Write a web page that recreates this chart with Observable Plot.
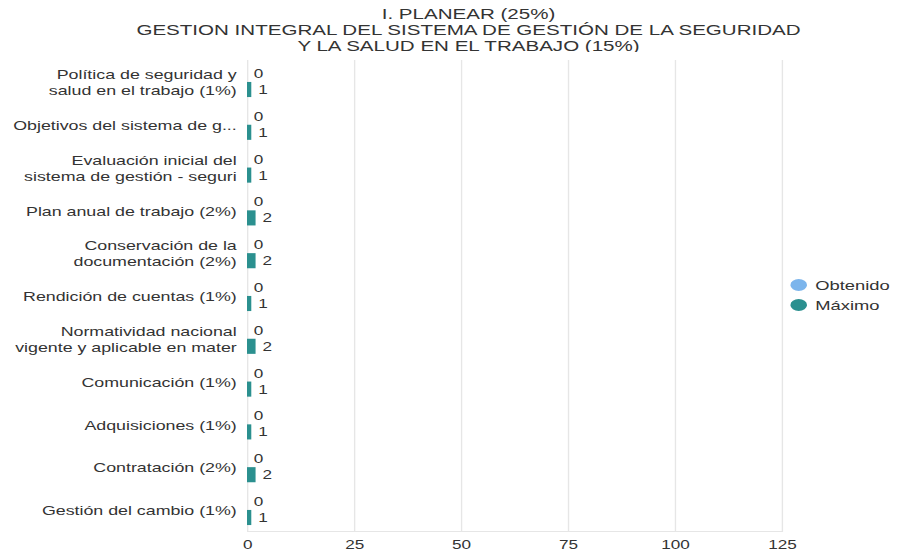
<!DOCTYPE html>
<html>
<head>
<meta charset="utf-8">
<script src="https://cdn.jsdelivr.net/npm/d3@7"></script>
<script src="https://cdn.jsdelivr.net/npm/@observablehq/plot@0.6"></script>
<style>
  html, body { margin: 0; padding: 0; background: #fff; }
  body { width: 897px; height: 552px; position: relative; overflow: hidden; font-family: "Liberation Sans", Arial, sans-serif; }
  #stage { position: absolute; left: 0; top: 0; width: 655px; height: 552px; transform: scaleX(1.37); transform-origin: 0 0; }
  #title { position: absolute; left: 14.5px; top: 6px; width: 655px; text-align: center; color: #333; font-size: 15px; line-height: 16px; white-space: nowrap; }
  #chart { position: absolute; left: 0; top: 52px; }
  #legend { position: absolute; left: 576.6px; top: 275px; font-size: 13.4px; color: #333; }
  #legend .item { display: flex; align-items: center; height: 20px; white-space: nowrap; }
  #legend .sw { display: inline-block; width: 12.5px; height: 12px; border-radius: 50%; margin-right: 6px; }
</style>
</head>
<body>
<div id="stage">
  <div id="title">I. PLANEAR (25%)<br>GESTION INTEGRAL DEL SISTEMA DE GESTIÓN DE LA SEGURIDAD<br>Y LA SALUD EN EL TRABAJO (15%)</div>
  <div id="chart"></div>
  <div id="legend"></div>
</div>
<script>
const categories = [
  "Política de seguridad y\nsalud en el trabajo (1%)",
  "Objetivos del sistema de g...",
  "Evaluación inicial del\nsistema de gestión - seguri",
  "Plan anual de trabajo (2%)",
  "Conservación de la\ndocumentación (2%)",
  "Rendición de cuentas (1%)",
  "Normatividad nacional\nvigente y aplicable en mater",
  "Comunicación (1%)",
  "Adquisiciones (1%)",
  "Contratación (2%)",
  "Gestión del cambio (1%)"
];
const obtenido = [0, 0, 0, 0, 0, 0, 0, 0, 0, 0, 0];
const maximo   = [1, 1, 1, 2, 2, 1, 2, 1, 1, 2, 1];
const seriesNames = ["Obtenido", "Máximo"];
const seriesColors = ["#7cb5ec", "#2b908f"];
const xTicks = [0, 25, 50, 75, 100, 125];

const dObt = categories.map((c, i) => ({category: c, value: obtenido[i]}));
const dMax = categories.map((c, i) => ({category: c, value: maximo[i]}));

const chart = Plot.plot({
  width: 655,
  height: 500,
  marginLeft: 180.3,
  marginRight: 84.4,
  marginTop: 8.1,
  marginBottom: 21.1,
  style: {fontFamily: "Liberation Sans, Arial, sans-serif", background: "#fff", overflow: "visible"},
  x: {domain: [0, 125], ticks: xTicks},
  y: {domain: categories, paddingInner: 0.25, paddingOuter: 0.125, round: false},
  marks: [
    Plot.gridX(xTicks, {stroke: "#e6e6e6", strokeOpacity: 1}),
    Plot.frame({anchor: "bottom", stroke: "#e6e6e6", strokeOpacity: 1}),
    Plot.axisX(xTicks, {tickSize: 0, tickPadding: 9, fontSize: 12.5, fill: "#333", label: null}),
    Plot.axisY({tickSize: 0, tickPadding: 8, fontSize: 13, fill: "#333", lineHeight: 1.23, label: null}),
    Plot.barX(dObt, {x: "value", y: "category", fill: seriesColors[0], insetTop: 0.5, insetBottom: 16.5}),
    Plot.barX(dMax, {x: "value", y: "category", fill: seriesColors[1], insetTop: 16.5, insetBottom: 0.5}),
    Plot.text(dObt, {x: "value", y: "category", text: d => String(d.value), dx: 4.5, dy: -8, textAnchor: "start", fontSize: 12.5, fill: "#333"}),
    Plot.text(dMax, {x: "value", y: "category", text: d => String(d.value), dx: 4.5, dy: 8, textAnchor: "start", fontSize: 12.5, fill: "#333"})
  ]
});
document.getElementById("chart").appendChild(chart);

const legend = document.getElementById("legend");
seriesNames.forEach((n, i) => {
  const it = document.createElement("div");
  it.className = "item";
  const sw = document.createElement("span");
  sw.className = "sw";
  sw.style.background = seriesColors[i];
  it.appendChild(sw);
  it.appendChild(document.createTextNode(n));
  legend.appendChild(it);
});
</script>
</body>
</html>
